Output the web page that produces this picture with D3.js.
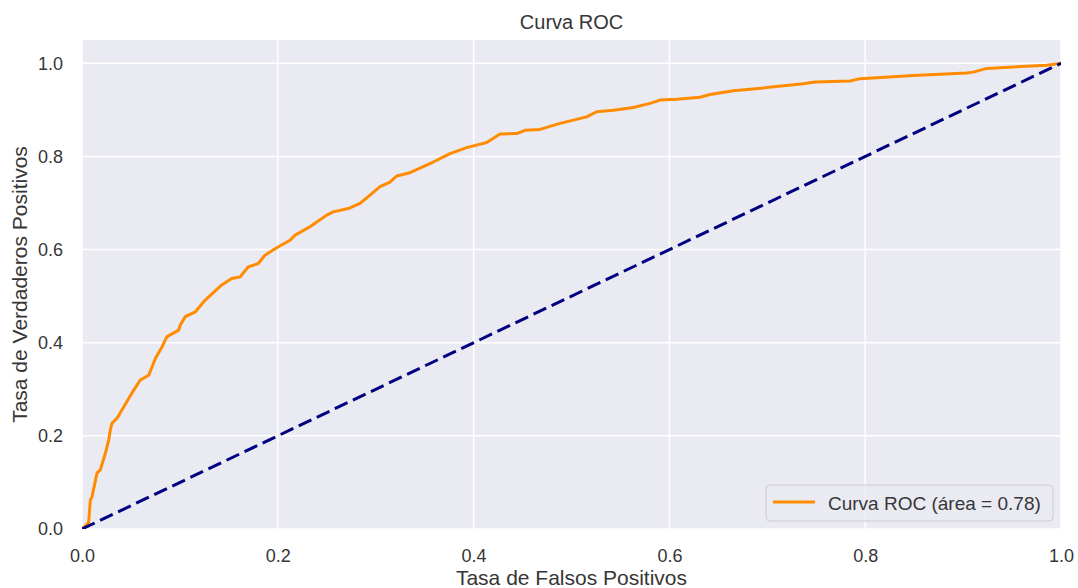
<!DOCTYPE html>
<html>
<head>
<meta charset="utf-8">
<script src="https://cdn.jsdelivr.net/npm/d3@7"></script>
<style>
  html, body { margin: 0; padding: 0; background: #ffffff; }
  svg { display: block; font-family: "Liberation Sans", Arial, sans-serif; }
</style>
</head>
<body>
<svg id="chart" width="1078" height="588"></svg>
<script>
// ROC curve: false positive rate vs true positive rate
const fpr = [0, 0.0068, 0.0085, 0.0102, 0.0153, 0.0187, 0.0238, 0.0273, 0.0289, 0.0306,
  0.0358, 0.0426, 0.0477, 0.0528, 0.0596, 0.0681, 0.0715, 0.0749, 0.0817, 0.0868,
  0.0988, 0.1004, 0.1055, 0.1157, 0.1256, 0.1427, 0.1529, 0.1614, 0.1699, 0.1801,
  0.1869, 0.1989, 0.2125, 0.2176, 0.2329, 0.2397, 0.2500, 0.2567, 0.2720, 0.2840,
  0.2942, 0.3044, 0.3146, 0.3214, 0.3350, 0.3588, 0.3759, 0.3929, 0.4134, 0.4270,
  0.4440, 0.4525, 0.4678, 0.4883, 0.5155, 0.5257, 0.5427, 0.5631, 0.5802, 0.5904,
  0.6075, 0.6313, 0.6415, 0.6653, 0.6823, 0.7368, 0.7487, 0.7845, 0.7947, 0.8287,
  0.8491, 0.9037, 0.9104, 0.9241, 0.9513, 0.9854, 1];
const tpr = [0, 0.0135, 0.062, 0.069, 0.120, 0.127, 0.162, 0.191, 0.212, 0.227,
  0.238, 0.262, 0.280, 0.298, 0.320, 0.330, 0.348, 0.366, 0.391, 0.413,
  0.427, 0.438, 0.456, 0.466, 0.491, 0.524, 0.538, 0.541, 0.563, 0.570,
  0.588, 0.604, 0.620, 0.631, 0.649, 0.659, 0.674, 0.681, 0.688, 0.699,
  0.717, 0.735, 0.745, 0.758, 0.765, 0.788, 0.806, 0.819, 0.830, 0.848,
  0.849, 0.856, 0.858, 0.871, 0.885, 0.896, 0.899, 0.905, 0.914, 0.921,
  0.923, 0.927, 0.933, 0.941, 0.944, 0.956, 0.960, 0.962, 0.967, 0.971,
  0.974, 0.979, 0.981, 0.989, 0.992, 0.996, 1];
const chanceLine = [0, 1];
const aucValue = 0.78;
const xTicks = [0, 0.2, 0.4, 0.6, 0.8, 1.0];
const yTicks = [0, 0.2, 0.4, 0.6, 0.8, 1.0];

const textColor = "#363636";
const svg = d3.select("#chart");
const margin = { left: 82, right: 17, top: 40, bottom: 59 };
const W = 1078, H = 588;
const x = d3.scaleLinear().domain([0, 1]).range([margin.left, W - margin.right]);
const y = d3.scaleLinear().domain([0, 1.05]).range([H - margin.bottom, margin.top]);

// plot background
svg.append("rect")
  .attr("x", x(0)).attr("y", y(1.05))
  .attr("width", x(1) - x(0)).attr("height", y(0) - y(1.05))
  .attr("fill", "#EAEAF2");

svg.append("clipPath").attr("id", "plotClip")
  .append("rect")
  .attr("x", x(0)).attr("y", y(1.05))
  .attr("width", x(1) - x(0)).attr("height", y(0) - y(1.05));

// grid
const grid = svg.append("g").attr("clip-path", "url(#plotClip)");
grid.selectAll("line.gx").data(xTicks).join("line")
  .attr("x1", d => x(d)).attr("x2", d => x(d))
  .attr("y1", y(1.05)).attr("y2", y(0))
  .attr("stroke", "#ffffff").attr("stroke-width", 1.5);
grid.selectAll("line.gy").data(yTicks).join("line")
  .attr("y1", d => y(d)).attr("y2", d => y(d))
  .attr("x1", x(0)).attr("x2", x(1))
  .attr("stroke", "#ffffff").attr("stroke-width", 1.5);

// axes (labels only, no tick marks or spines)
const xAxis = svg.append("g")
  .attr("transform", `translate(0,${y(0)})`)
  .call(d3.axisBottom(x).tickValues(xTicks).tickFormat(d3.format(".1f")).tickSize(0).tickPadding(20));
const yAxis = svg.append("g")
  .attr("transform", `translate(${x(0)},0)`)
  .call(d3.axisLeft(y).tickValues(yTicks).tickFormat(d3.format(".1f")).tickSize(0).tickPadding(19));
[xAxis, yAxis].forEach(g => {
  g.select(".domain").remove();
  g.selectAll("text")
    .attr("fill", textColor)
    .style("font-size", "18px")
    .style("font-family", "'Liberation Sans', Arial, sans-serif");
});

const plot = svg.append("g").attr("clip-path", "url(#plotClip)");
const line = d3.line().x(d => x(d[0])).y(d => y(d[1]));

// ROC curve
const rocPoints = d3.zip(fpr, tpr);
plot.append("path")
  .datum(rocPoints)
  .attr("d", line)
  .attr("fill", "none")
  .attr("stroke", "#FF8C00")
  .attr("stroke-width", 3)
  .attr("stroke-linejoin", "round")
  .attr("stroke-linecap", "square");

// chance diagonal
plot.append("path")
  .datum(d3.zip(chanceLine, chanceLine))
  .attr("d", line)
  .attr("fill", "none")
  .attr("stroke", "#000080")
  .attr("stroke-width", 3)
  .attr("stroke-dasharray", "14,6");

// title and axis labels
svg.append("text")
  .attr("x", (x(0) + x(1)) / 2).attr("y", 29)
  .attr("text-anchor", "middle")
  .attr("fill", textColor)
  .style("font-size", "20px")
  .text("Curva ROC");
svg.append("text")
  .attr("x", (x(0) + x(1)) / 2).attr("y", 585)
  .attr("text-anchor", "middle")
  .attr("fill", textColor)
  .style("font-size", "21px")
  .text("Tasa de Falsos Positivos");
svg.append("text")
  .attr("transform", `translate(27,${(y(0) + y(1.05)) / 2}) rotate(-90)`)
  .attr("text-anchor", "middle")
  .attr("fill", textColor)
  .style("font-size", "21px")
  .text("Tasa de Verdaderos Positivos");

// legend
const legend = svg.append("g").attr("transform", "translate(766,485)");
legend.append("rect")
  .attr("width", 287).attr("height", 36)
  .attr("rx", 4).attr("ry", 4)
  .attr("fill", "#EAEAF2").attr("fill-opacity", 0.8)
  .attr("stroke", "#CCCCCC").attr("stroke-width", 1);
legend.append("line")
  .attr("x1", 7).attr("x2", 49)
  .attr("y1", 17).attr("y2", 17)
  .attr("stroke", "#FF8C00").attr("stroke-width", 3);
legend.append("text")
  .attr("x", 62).attr("y", 24.5)
  .attr("fill", textColor)
  .style("font-size", "19px")
  .text(`Curva ROC (área = ${aucValue.toFixed(2)})`);
</script>
</body>
</html>
